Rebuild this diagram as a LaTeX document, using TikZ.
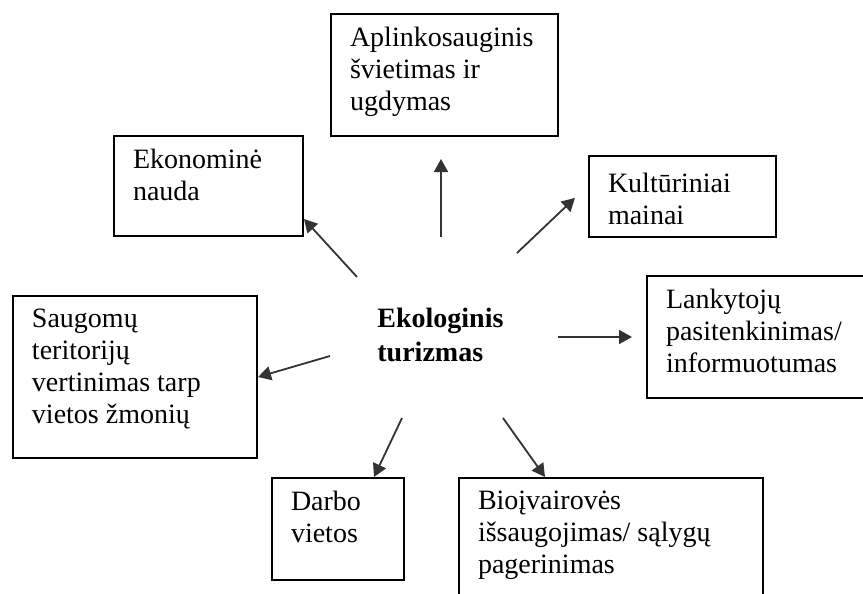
\documentclass[tikz,border=0pt]{standalone}
\usepackage{fontspec}
\setmainfont{Liberation Serif}
\usepackage{tikz}
\usetikzlibrary{arrows.meta}
\tikzstyle{infobox} = [draw=black, line width=1pt, rectangle, anchor=north west,
    inner xsep=9.5pt, inner ysep=6.5pt, font=\fontsize{14pt}{16pt}\selectfont]
\tikzstyle{centretitle} = [anchor=north west, inner sep=0pt, align=left,
    font=\bfseries\fontsize{14pt}{17pt}\selectfont]
\tikzstyle{pointer} = [-{Triangle[length=6.5pt, width=7pt]}, line width=0.9pt, black!80]

\begin{document}
\begin{tikzpicture}[x=0.5pt, y=-0.5pt]
    \useasboundingbox (0,0) rectangle (863,594);
    \clip (0,0) rectangle (863,594);

    \node [centretitle] (eco) at (377,308) {Ekologinis\\turizmas};

    \node [infobox] (aplink) at (330,13) {%
        \begin{minipage}[t][48pt][t]{94.5pt}
            Aplinkosauginis\\
            švietimas ir\\
            ugdymas
        \end{minipage}
    };
    \node [infobox] (ekon) at (113,135) {%
        \begin{minipage}[t][37pt][t]{75.5pt}
            Ekonominė\\
            nauda
        \end{minipage}
    };
    \node [infobox, inner ysep=8.5pt] (kult) at (588,155) {%
        \begin{minipage}[t][23.5pt][t]{74.5pt}
            Kultūriniai\\
            mainai
        \end{minipage}
    };
    \node [infobox] (lank) at (646,275) {%
        \begin{minipage}[t][48pt][t]{103pt}
            Lankytojų\\
            pasitenkinimas/\\
            informuotumas
        \end{minipage}
    };
    \node [infobox] (saug) at (12,295) {%
        \begin{minipage}[t][68pt][t]{103pt}
            Saugomų\\
            teritorijų\\
            vertinimas tarp\\
            vietos žmonių
        \end{minipage}
    };
    \node [infobox] (darbo) at (271,477) {%
        \begin{minipage}[t][38pt][t]{47pt}
            Darbo\\
            vietos
        \end{minipage}
    };
    \node [infobox] (bio) at (458,477) {%
        \begin{minipage}[t][58.5pt][t]{133pt}
            Bioįvairovės\\
            išsaugojimas/ sąlygų\\
            pagerinimas
        \end{minipage}
    };

    \coordinate (tup) at (441,237);
    \coordinate (tkult) at (517,253);
    \coordinate (tekon) at (357,277);
    \coordinate (tlank) at (558,337);
    \coordinate (tsaug) at (330,356);
    \coordinate (tdarbo) at (402,418);
    \coordinate (tbio) at (503,418);

    \draw [pointer, shorten >=11pt] (tup) -- (tup |- aplink.south);
    \draw [pointer, shorten >=9pt] (tkult) -- ([yshift=5.5pt]kult.west);
    \draw [pointer] (tekon) -- ([yshift=-16.5pt]ekon.east);
    \draw [pointer, shorten >=7pt] (tlank) -- (tlank -| lank.west);
    \draw [pointer] (tsaug) -- (saug.east);
    \draw [pointer] (tdarbo) -- ([xshift=18pt]darbo.north);
    \draw [pointer] (tbio) -- ([xshift=43.5pt]bio.north west);
\end{tikzpicture}
\end{document}
